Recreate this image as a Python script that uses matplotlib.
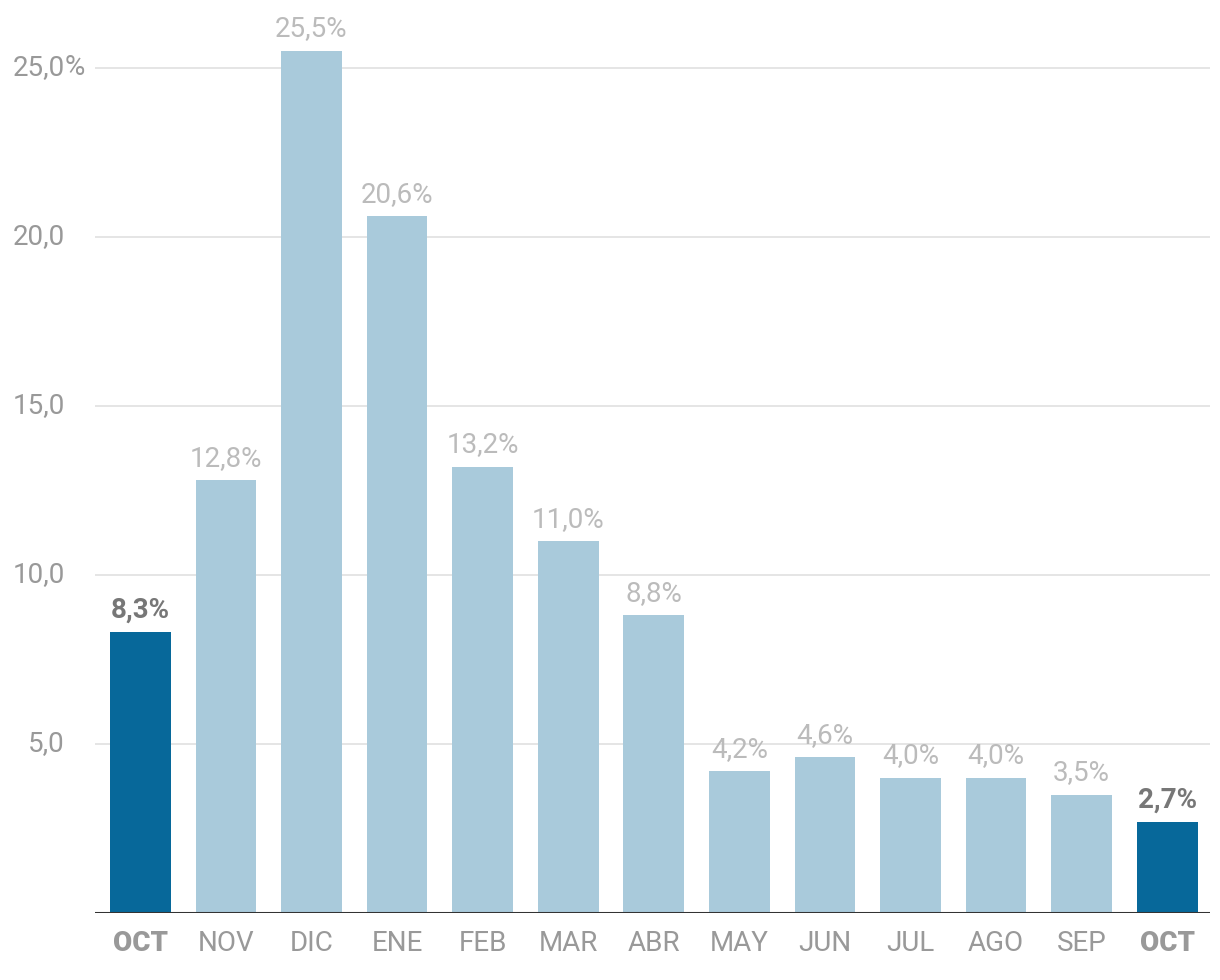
import matplotlib
matplotlib.use("Agg")
import matplotlib.pyplot as plt
from matplotlib.transforms import blended_transform_factory

months = ["OCT", "NOV", "DIC", "ENE", "FEB", "MAR", "ABR", "MAY", "JUN", "JUL", "AGO", "SEP", "OCT"]
values = [8.3, 12.8, 25.5, 20.6, 13.2, 11.0, 8.8, 4.2, 4.6, 4.0, 4.0, 3.5, 2.7]
highlight = [True, False, False, False, False, False, False, False, False, False, False, False, True]
yticks = [5, 10, 15, 20, 25]

plt.rcParams['font.family'] = ['Roboto', 'DejaVu Sans']

DARK = "#07689a"
LIGHT = "#a9cadb"

fig = plt.figure(figsize=(12.2, 9.8), dpi=100)
ax = fig.add_axes([95/1220, 67/980, (1210-95)/1220, 913/980])

x = list(range(len(values)))
colors = [DARK if h else LIGHT for h in highlight]
ax.bar(x, values, width=0.71, color=colors, zorder=2)

ax.set_xlim(-0.53, 12.5)
ax.set_ylim(0, 27.0)

for t in yticks:
    ax.axhline(t, color="#e3e3e3", lw=1.3, zorder=1)
ax.axhline(0, color="#333333", lw=2.2, zorder=3)

for s in ax.spines.values():
    s.set_visible(False)
ax.set_xticks([])
ax.set_yticks([])

trans = blended_transform_factory(fig.transFigure, ax.transData)
for t in yticks:
    lbl = f"{t:.1f}".replace(".", ",")
    ax.text(65/1220, t, lbl, transform=trans, ha="right", va="center",
            fontsize=20, color="#999999")
    if t == yticks[-1]:
        ax.text(65/1220, t, "%", transform=trans, ha="left", va="center",
                fontsize=20, color="#999999")

for xi, v, h, m in zip(x, values, highlight, months):
    lbl = f"{v:.1f}".replace(".", ",") + "%"
    if h:
        ax.annotate(lbl, (xi, v), xytext=(0, 6), textcoords="offset points",
                    ha="center", va="bottom", fontsize=20, fontweight="bold",
                    color="#777777")
        ax.annotate(m, (xi, 0), xytext=(0, -12), textcoords="offset points",
                    ha="center", va="top", fontsize=20, fontweight="black",
                    color="#999999")
    else:
        ax.annotate(lbl, (xi, v), xytext=(0, 6), textcoords="offset points",
                    ha="center", va="bottom", fontsize=20,
                    color="#bbbbbb")
        ax.annotate(m, (xi, 0), xytext=(0, -12), textcoords="offset points",
                    ha="center", va="top", fontsize=20,
                    color="#999999")

fig.savefig("out.png", dpi=100, facecolor="white")
